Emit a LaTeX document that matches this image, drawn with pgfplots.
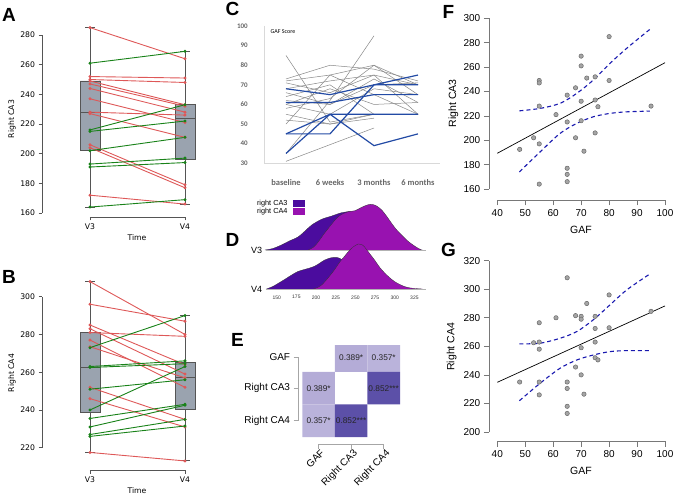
\documentclass[border=0pt]{standalone}
\usepackage{pgfplots}
\pgfplotsset{compat=1.18}
\usepackage{fontspec}
\setmainfont{Liberation Sans}
\newfontfamily\djv{DejaVu Sans}
\newfontfamily\carl{Carlito}
\definecolor{boxfill}{RGB}{154,163,175}
\definecolor{boxedge}{RGB}{85,85,85}
\definecolor{lred}{RGB}{222,88,88}
\definecolor{lgreen}{RGB}{25,130,25}
\definecolor{cblue}{RGB}{35,75,165}
\definecolor{cgray}{RGB}{135,135,135}
\definecolor{ca3}{RGB}{75,12,158}
\definecolor{ca4}{RGB}{152,18,176}
\definecolor{h389}{RGB}{180,172,215}
\definecolor{h357}{RGB}{186,179,219}
\definecolor{h852}{RGB}{92,80,168}
\definecolor{ptfill}{RGB}{165,165,165}
\definecolor{ptedge}{RGB}{105,105,105}
\definecolor{cidash}{RGB}{25,25,175}
\definecolor{raxis}{RGB}{120,120,120}
\pgfplotsset{
  base/.style={scale only axis, clip=false, anchor=south west,
    /pgf/number format/assume math mode=true,
    axis x line*=bottom, axis y line*=left,
    axis line style={draw=none}},
  pairred/.style={lred, line width=0.9pt, mark=*, mark size=1pt, mark options={fill=lred}},
  pairgreen/.style={lgreen, line width=0.9pt, mark=*, mark size=1pt, mark options={fill=lgreen}},
  bx/.style={fill=boxfill, draw=boxedge, line width=0.9pt},
  bl/.style={boxedge, line width=0.9pt},
}
% pair lines V3 -> V4
\newcommand{\pr}[2]{\addplot[pairred] coordinates {(0,#1) (1,#2)};}
\newcommand{\pg}[2]{\addplot[pairgreen] coordinates {(0,#1) (1,#2)};}
% box: position, lower whisker, lower quartile, median, upper quartile, upper whisker
\newcommand{\bxp}[6]{%
\addplot[bl] coordinates {(#1,#2) (#1,#3)};
\addplot[bl] coordinates {(#1,#5) (#1,#6)};
\addplot[bl] coordinates {(#1-0.05,#2) (#1+0.05,#2)};
\addplot[bl] coordinates {(#1-0.05,#6) (#1+0.05,#6)};
\addplot[bx] coordinates {(#1-0.105,#3) (#1+0.105,#3) (#1+0.105,#5) (#1-0.105,#5) (#1-0.105,#3)};
\addplot[bl] coordinates {(#1-0.105,#4) (#1+0.105,#4)};}
\newcommand{\cg}[1]{\addplot[cgray, line width=0.5pt] coordinates {#1};}
\newcommand{\cb}[1]{\addplot[cblue, line width=1.2pt] coordinates {#1};}
\begin{document}
\begin{tikzpicture}
%================ A =================
\begin{axis}[base, at={(42pt,283pt)}, width=190.5pt, height=196.8pt,
  xmin=-0.505, xmax=1.5, ymin=157.3, ymax=290,
  xtick={0,1}, xticklabels={V3,V4}, ytick={160,180,...,280},
  tick align=outside, major tick length=3.5pt, tick style={boxedge, line width=0.8pt},
  tick label style={font=\djv\fontsize{7.7}{8}\selectfont}]
\addplot[boxedge, line width=0.8pt] coordinates {(-0.505,160) (-0.505,280)};
\addplot[boxedge, line width=0.8pt] coordinates {(0,157.3) (1,157.3)};
\bxp{0}{164}{202}{228}{249}{285}
\bxp{1}{166}{196}{224}{233}{269}
\pr{285}{264} \pr{252}{251} \pr{250}{248} \pr{249}{233} \pr{247}{232} \pr{244}{228}
\pr{237}{221} \pr{228}{226} \pr{227}{211} \pr{206}{179} \pr{204}{177} \pr{172}{166}
\pg{261}{269} \pg{216}{233} \pg{215}{222} \pg{202}{211} \pg{193}{197} \pg{191}{194} \pg{164}{169}
\end{axis}
%================ B =================
\begin{axis}[base, at={(42pt,30pt)}, width=190.5pt, height=192.2pt,
  xmin=-0.505, xmax=1.5, ymin=208.2, ymax=310,
  xtick={0,1}, xticklabels={V3,V4}, ytick={220,240,...,300},
  tick align=outside, major tick length=3.5pt, tick style={boxedge, line width=0.8pt},
  tick label style={font=\djv\fontsize{7.7}{8}\selectfont}]
\addplot[boxedge, line width=0.8pt] coordinates {(-0.505,220) (-0.505,300)};
\addplot[boxedge, line width=0.8pt] coordinates {(0,208.2) (1,208.2)};
\bxp{0}{217.5}{238.5}{262.5}{281}{308}
\bxp{1}{213}{240.5}{257}{265}{290}
\pr{308}{280} \pr{296}{287} \pr{285}{264} \pr{283}{259} \pr{281}{279}
\pr{277}{252} \pr{273.5}{257} \pr{252}{235} \pr{246}{231} \pr{217.5}{213}
\pg{273}{290} \pg{263}{266} \pg{262.5}{264.5} \pg{251}{256} \pg{240}{263}
\pg{235.5}{243} \pg{231}{242.5} \pg{227}{235} \pg{226}{231.5}
\end{axis}
%================ C =================
\begin{axis}[base, at={(264.3pt,336.7pt)}, width=175.7pt, height=137.3pt,
  xmin=-0.493, xmax=3.5, ymin=30, ymax=100,
  xtick={0,1,2,3}, xticklabels={baseline,6 weeks,3 months,6 months},
  ytick={30,40,...,100}, major tick length=0pt,
  yticklabel style={font=\carl\bfseries\fontsize{7}{8}\selectfont, text=black!60, xshift=-13pt},
  xticklabel style={font=\carl\bfseries\fontsize{8.5}{9}\selectfont, text=black!60, yshift=-13pt}]
\addplot[gray!30, line width=0.6pt] coordinates {(-0.493,100) (-0.493,30) (3.5,30)};
\cg{(0,85) (1,51) (2,55)}
\cg{(0,31) (1,39.5) (2,48)}
\cg{(0,35) (1,62) (2,95)}
\cg{(0,73) (1,80) (2,78) (3,72)}
\cg{(0,72) (1,75) (2,80) (3,65)}
\cg{(0,71) (1,66) (2,75) (3,70)}
\cg{(0,68) (1,72) (2,75) (3,55)}
\cg{(0,66) (1,60) (2,73) (3,61)}
\cg{(0,64) (1,70) (2,55) (3,55)}
\cg{(0,60) (1,55) (2,68) (3,65)}
\cg{(0,58) (1,63) (2,80) (3,70)}
\cg{(0,55) (1,50) (2,53)}
\cg{(0,52) (1,50) (2,55) (3,55)}
\cg{(0,50) (1,75) (2,65) (3,55)}
\cg{(0,62) (1,60) (2,70) (3,71)}
\cg{(0,60) (1,68) (2,60) (3,61)}
\cb{(0,68) (1,65) (2,70) (3,75)}
\cb{(0,61) (1,61) (2,65) (3,65)}
\cb{(0,45) (1,45) (2,70) (3,70)}
\cb{(0,35) (1,55) (2,39) (3,45)}
\cb{(0,45) (1,55) (2,55) (3,55)}
\end{axis}
\node[anchor=west, font=\carl\fontsize{6}{7}\selectfont] at (267pt,468pt) {GAF Score};
%================ D =================
\begin{axis}[base, at={(265.7pt,208pt)}, width=160.5pt, height=93pt,
  xmin=136, xmax=340, ymin=-3, ymax=90, major tick length=0pt,
  xtick={150,175,...,325}, ytick={0,39}, yticklabels={V4,V3},
  xticklabel style={font=\fontsize{5}{6}\selectfont, text=black!80},
  yticklabel style={font=\fontsize{9}{10}\selectfont}]
\addplot[fill=ca3, draw=black!80, line width=0.3pt, smooth, tension=0.5] coordinates {
(135,39) (145,40.5) (156,44) (166,48) (177,52) (186,58) (194.5,64) (207,69.7) (220,73) (232.6,76.3) (245,77.3) (258,74) (270,68) (283,58) (296,48) (310,42) (322,39.5) (335,39)};
\addplot[fill=ca4, draw=black!80, line width=0.3pt, smooth, tension=0.5] coordinates {
(190,39) (197,42) (203,47.3) (209,54) (215.6,60.7) (222,67) (228,72.3) (235,75.5) (241,77.3) (249.5,78.3) (258,81.7) (265,84) (270.7,84.7) (277,83) (283.4,79) (290,72.5) (296,65.7) (302,59.5) (308.8,54) (315,49) (321.5,45) (328,41.5) (334,39)};
\addplot[gray!60, line width=0.3pt] coordinates {(136,39) (340,39)};
\addplot[fill=ca3, draw=black!80, line width=0.3pt, smooth, tension=0.5] coordinates {
(137,0) (145,2.5) (152,5.7) (160,9.5) (169,14) (177,17.5) (186,19.7) (192,21) (198.7,23) (205,26) (211,29) (218,31) (224,31.7) (230,30.7) (240,25) (250,18) (260,11) (270,6) (280,2) (290,0)};
\addplot[fill=ca4, draw=black!80, line width=0.3pt, smooth, tension=0.5] coordinates {
(196.5,0) (202,1.5) (207,4) (213,9) (220,15.7) (225,21) (230.4,27.3) (236,32.5) (241,37.3) (247,42) (253.7,45) (258,44.5) (262,41.7) (268,35.5) (275,28.3) (281,21.5) (287.6,15.7) (294,11) (300,7.3) (307,4.3) (313,2.3) (320,1) (325.7,0.5) (335,0)};
\addplot[gray!60, line width=0.3pt] coordinates {(136,0) (340,0)};
\end{axis}
\fill[ca3] (293pt,293pt) rectangle (305pt,299.5pt);
\fill[ca4] (293pt,285pt) rectangle (305pt,291.5pt);
\node[anchor=east, font=\fontsize{7.3}{8}\selectfont] at (291pt,296.3pt) {right CA3};
\node[anchor=east, font=\fontsize{7.3}{8}\selectfont] at (291pt,288.3pt) {right CA4};
%================ E =================
\begin{axis}[base, at={(298.1pt,56pt)}, width=101.9pt, height=99pt,
  xmin=-0.13, xmax=3, ymin=-0.215, ymax=2.83,
  xtick={0.5,1.5,2.5}, xticklabels={GAF,Right CA3,Right CA4},
  ytick={0.5,1.5,2.45}, yticklabels={Right CA4,Right CA3,GAF},
  tick align=outside, major tick length=4.5pt, tick style={gray!70, line width=0.6pt},
  tick label style={font=\fontsize{10}{11}\selectfont},
  xticklabel style={rotate=45, anchor=north east, inner sep=1pt, xshift=2pt}]
\addplot[gray!70, line width=0.6pt] coordinates {(-0.13,0.5) (-0.13,2.45)};
\addplot[gray!70, line width=0.6pt] coordinates {(0.5,-0.215) (2.5,-0.215)};
\addplot[fill=h389, draw=none] coordinates {(1,2) (2,2) (2,2.83) (1,2.83) (1,2)};
\addplot[fill=h357, draw=none] coordinates {(2,2) (3,2) (3,2.83) (2,2.83) (2,2)};
\addplot[fill=h389, draw=none] coordinates {(0,1) (1,1) (1,2) (0,2) (0,1)};
\addplot[fill=h852, draw=none] coordinates {(2,1) (3,1) (3,2) (2,2) (2,1)};
\addplot[fill=h357, draw=none] coordinates {(0,0) (1,0) (1,1) (0,1) (0,0)};
\addplot[fill=h852, draw=none] coordinates {(1,0) (2,0) (2,1) (1,1) (1,0)};
\addplot[draw=none, mark=none, nodes near coords, point meta=explicit symbolic,
  every node near coord/.append style={anchor=center, font=\fontsize{8.3}{9}\selectfont, text=black!85}]
  coordinates {(1.5,2.45)[0.389*] (2.5,2.45)[0.357*] (0.5,1.5)[0.389*] (2.5,1.5)[0.852***] (0.5,0.5)[0.357*] (1.5,0.5)[0.852***]};
\end{axis}
%================ F =================
\begin{axis}[base, at={(489.3pt,300pt)}, width=175.7pt, height=184.1pt,
  xmin=37.14, xmax=100, ymin=150.97, ymax=302,
  xtick={40,50,...,100}, ytick={160,180,...,300},
  tick align=outside, major tick length=5.5pt, tick style={raxis, line width=0.6pt},
  tick label style={font=\fontsize{10}{11}\selectfont}]
\addplot[raxis, line width=0.6pt] coordinates {(37.14,160) (37.14,300)};
\addplot[raxis, line width=0.6pt] coordinates {(40,150.97) (100,150.97)};
\addplot[only marks, mark=*, mark size=2.2pt, mark options={fill=ptfill, draw=ptedge, line width=0.5pt}] coordinates {
(48,192.5) (53,202) (55,249) (55,247) (55,228) (55,197) (55,164) (61,221) (65,237) (65,215) (65,177) (65,172) (65,166) (68,243) (68,202) (70,269) (70,261) (70,232) (70,216) (71,191) (72,251) (75,252) (75,233) (75,206) (76,227.5) (80,285) (80,249) (95,228)};
\addplot[black, line width=0.7pt] coordinates {(40,189.3) (100,263.6)};
\addplot[cidash, line width=1.1pt, smooth, dash pattern=on 4pt off 3pt] coordinates {
(47.9,224.1) (55.3,226.1) (62.4,230.2) (68.4,238.4) (74.3,249.3) (80.3,263) (86.3,275.4) (94.6,291)};
\addplot[cidash, line width=1.1pt, smooth, dash pattern=on 4pt off 3pt] coordinates {
(47.9,174) (55.3,190.4) (62.4,205.5) (68.4,213.8) (74.3,219.2) (80.3,222) (86.3,223.3) (94.6,223.9)};
\end{axis}
%================ G =================
\begin{axis}[base, at={(489.3pt,59pt)}, width=175.7pt, height=183.2pt,
  xmin=37.14, xmax=100, ymin=193.7, ymax=322,
  xtick={40,50,...,100}, ytick={200,220,...,320},
  tick align=outside, major tick length=5.5pt, tick style={raxis, line width=0.6pt},
  tick label style={font=\fontsize{10}{11}\selectfont}]
\addplot[raxis, line width=0.6pt] coordinates {(37.14,200) (37.14,320)};
\addplot[raxis, line width=0.6pt] coordinates {(40,193.7) (100,193.7)};
\addplot[only marks, mark=*, mark size=2.2pt, mark options={fill=ptfill, draw=ptedge, line width=0.5pt}] coordinates {
(48,235) (53,262.5) (55,276.5) (55,263) (55,258) (55,235) (55,226) (61,280) (65,308) (65,235) (65,230.5) (65,218) (65,213) (68,281.5) (68,245.5) (70,281) (70,279) (70,259) (70,240) (71,226.5) (72,290) (75,281) (75,272.5) (75,263) (75,252) (76,250.5) (80,296) (80,273) (95,284.5)};
\addplot[black, line width=0.7pt] coordinates {(40,234.8) (100,288.3)};
\addplot[cidash, line width=1.1pt, smooth, dash pattern=on 4pt off 3pt] coordinates {
(47.9,261.7) (55.3,262.2) (62.4,265.6) (68.4,270.3) (74.3,278.5) (80.3,289) (86.3,299.5) (94.6,310.7)};
\addplot[cidash, line width=1.1pt, smooth, dash pattern=on 4pt off 3pt] coordinates {
(47.9,221.9) (55.3,234.1) (62.4,244.6) (68.4,250.4) (74.3,253.9) (80.3,256.3) (86.3,257) (94.6,257)};
\end{axis}
%================ labels =================
\node[rotate=90, font=\djv\fontsize{7.7}{8}\selectfont] at (12pt,381pt) {Right CA3};
\node[font=\djv\fontsize{7.7}{8}\selectfont] at (137pt,262pt) {Time};
\node[rotate=90, font=\djv\fontsize{7.7}{8}\selectfont] at (12pt,127pt) {Right CA4};
\node[font=\djv\fontsize{7.7}{8}\selectfont] at (137pt,9.3pt) {Time};
\node[rotate=90, font=\fontsize{10.5}{11}\selectfont] at (453.3pt,396.7pt) {Right CA3};
\node[font=\fontsize{10.5}{11}\selectfont] at (581pt,270pt) {GAF};
\node[rotate=90, font=\fontsize{10.5}{11}\selectfont] at (451.7pt,153.3pt) {Right CA4};
\node[font=\fontsize{10.5}{11}\selectfont] at (581pt,29.3pt) {GAF};
\begin{scope}[every node/.style={font=\bfseries\fontsize{19}{19}\selectfont, inner sep=0pt}]
\node at (9pt,485pt) {A};
\node at (9pt,223.5pt) {B};
\node at (232.5pt,491.5pt) {C};
\node at (232.5pt,260pt) {D};
\node at (237.5pt,160pt) {E};
\node at (448.5pt,488.5pt) {F};
\node at (448.5pt,250pt) {G};
\end{scope}
\pgfresetboundingbox
\path (0pt,0pt) rectangle (676pt,500pt);
\end{tikzpicture}
\end{document}
